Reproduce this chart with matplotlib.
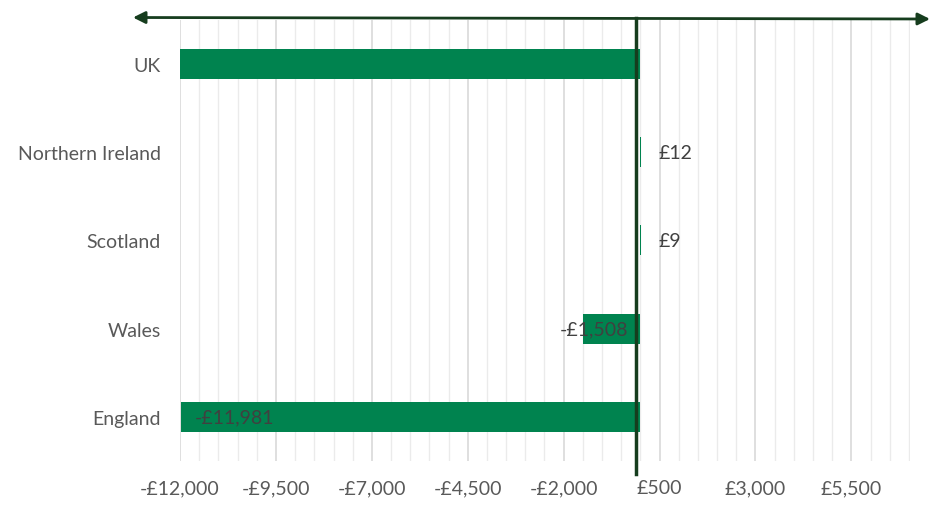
import matplotlib.pyplot as plt
import matplotlib.transforms as mtransforms
from matplotlib.ticker import FixedLocator, FuncFormatter

# Data
regions = ["England", "Wales", "Scotland", "Northern Ireland", "UK"]
values = [-11981, -1508, 9, 12, -13468]
show_label = [True, True, True, True, False]

bar_color = "#00834F"
dark_green = "#163D1E"
text_grey = "#595959"

plt.rcParams["font.family"] = ["Lato", "DejaVu Sans"]

fig = plt.figure(figsize=(9.33, 5.1), dpi=100)
ax = fig.add_axes([0.193, 0.094, 0.782, 0.865])

ypos = list(range(len(regions)))
ax.barh(ypos, values, height=0.34, color=bar_color, zorder=2)

ax.set_xlim(-12000, 7020)
ax.set_ylim(-0.5, len(regions) - 0.5)

major = list(range(-12000, 7001, 2500))
minor = [v for v in range(-12000, 7001, 500) if v not in major]
ax.xaxis.set_major_locator(FixedLocator(major))
ax.xaxis.set_minor_locator(FixedLocator(minor))


def money(v, pos=None):
    v = int(round(v))
    s = f"£{abs(v):,}"
    return "-" + s if v < 0 else s


ax.xaxis.set_major_formatter(FuncFormatter(money))
ax.grid(axis="x", which="major", color="#D9D9D9", linewidth=1.2, zorder=0)
ax.grid(axis="x", which="minor", color="#EBEBEB", linewidth=1.0, zorder=0)
ax.tick_params(axis="x", which="both", length=0, pad=13, labelsize=14,
               labelcolor=text_grey)
ax.tick_params(axis="y", length=0, pad=14, labelsize=14, labelcolor=text_grey)
ax.set_yticks(ypos)
ax.set_yticklabels(regions)
for s in ax.spines.values():
    s.set_visible(False)

# data labels
for y, v, show in zip(ypos, values, show_label):
    if not show:
        continue
    if v >= 0:
        ax.annotate(money(v), (v, y), xytext=(13, 0), textcoords="offset points",
                    ha="left", va="center", fontsize=14, color="#404040")
    elif v < -5000:
        ax.annotate(money(v), (v, y), xytext=(10, 0), textcoords="offset points",
                    ha="left", va="center", fontsize=14, color="#404040", zorder=3)
    else:
        ax.annotate(money(v), (0, y), xytext=(-9, 0), textcoords="offset points",
                    ha="right", va="center", fontsize=14, color="#404040", zorder=3)

# dark zero line running past the plot area
shift = mtransforms.ScaledTranslation(-4 / 100, 0, fig.dpi_scale_trans)
ax.plot([0, 0], [-0.03, 1.005], color=dark_green, linewidth=2.5,
        clip_on=False, zorder=4, transform=ax.get_xaxis_transform() + shift)

# double-headed arrow along the top
ax.annotate("", xy=(930 / 933, 1 - 20 / 510), xytext=(133 / 933, 1 - 18.5 / 510),
            xycoords="figure fraction", textcoords="figure fraction",
            arrowprops=dict(arrowstyle="<|-|>", color=dark_green, lw=2,
                            mutation_scale=18, shrinkA=0, shrinkB=0))

fig.savefig("out.png", dpi=100)
